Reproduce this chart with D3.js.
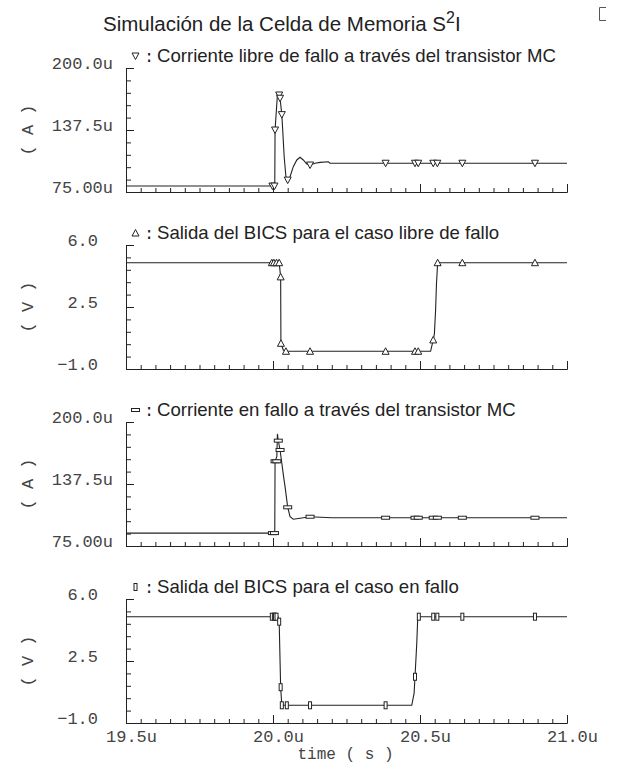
<!DOCTYPE html>
<html>
<head>
<meta charset="utf-8">
<script src="https://cdn.jsdelivr.net/npm/d3@7"></script>
<style>
  body { margin: 0; background: #fff; }
  svg { display: block; background: #fff; }
</style>
</head>
<body>
<svg id="chart"></svg>
<script>
// ---- data (time in us) ----
var timeDomain = [19.5, 21.0];
var timeTicks = [19.5, 20.0, 20.5, 21.0];
var timeLabels = ['19.5u', '20.0u', '20.5u', '21.0u'];

var currentDomain = [75, 200];
var currentTicks = [75, 137.5, 200];
var currentLabels = ['75.00u', '137.5u', '200.0u'];

var voltageDomain = [-1, 6];
var voltageTicks = [-1, 2.5, 6];
var voltageLabels = ['\u22121.0', '2.5', '6.0'];

// corriente libre de fallo (uA)
var iFree = [
  [19.5, 81], [20.006, 81], [20.007, 137.5], [20.015, 172.8], [20.024, 169.5],
  [20.030, 153], [20.033, 137.5], [20.038, 110.6], [20.044, 90.4], [20.050, 87.1],
  [20.058, 90.4], [20.069, 100.5], [20.081, 107.3], [20.092, 110], [20.103, 107.3],
  [20.115, 103.2], [20.126, 102.2], [20.143, 103.9], [20.160, 104.9], [20.188, 105.5],
  [20.194, 104], [21.0, 104]
];
var iFreeMarks = [
  [19.998, 81], [20.005, 81], [20.007, 137.5], [20.021, 172.8], [20.024, 169.5],
  [20.030, 153], [20.050, 87], [20.126, 102.2], [20.383, 104], [20.483, 104],
  [20.494, 104], [20.545, 104], [20.559, 104], [20.644, 104], [20.891, 104]
];

// salida BICS libre de fallo (V)
var vFree = [
  [19.5, 5.0], [20.021, 5.0], [20.026, 4.2], [20.027, 0.45], [20.035, 0.07],
  [20.044, 0], [20.536, 0], [20.545, 0.64], [20.549, 1.0], [20.553, 2.3],
  [20.556, 3.8], [20.560, 5.0], [21.0, 5.0]
];
var vFreeMarks = [
  [19.996, 5], [20.003, 5], [20.012, 5], [20.021, 5], [20.026, 4.2],
  [20.027, 0.45], [20.044, 0], [20.126, 0], [20.383, 0], [20.483, 0],
  [20.494, 0], [20.545, 0.64], [20.560, 5], [20.644, 5], [20.891, 5]
];

// corriente en fallo (uA)
var iFault = [
  [19.5, 88], [20.006, 88], [20.007, 160.4], [20.013, 165], [20.015, 188],
  [20.018, 181.2], [20.024, 171.8], [20.030, 158.4], [20.036, 145], [20.041, 134.8],
  [20.050, 114], [20.058, 104.5], [20.069, 102], [20.092, 103], [20.126, 104.5],
  [20.200, 103.5], [21.0, 103.5]
];
var iFaultMarks = [
  [19.998, 88], [20.005, 88], [20.007, 160.4], [20.013, 160.4], [20.018, 181.2],
  [20.024, 171.8], [20.050, 114], [20.126, 104.5], [20.383, 103.5], [20.483, 103.5],
  [20.494, 103.5], [20.545, 103.5], [20.559, 103.5], [20.644, 103.5], [20.891, 103.5]
];

// salida BICS en fallo (V)
var vFault = [
  [19.5, 5.0], [20.017, 5.0], [20.019, 4.9], [20.021, 4.72], [20.026, 1.02], [20.030, 0],
  [20.472, 0], [20.480, 0.69], [20.483, 1.61], [20.489, 3.5], [20.492, 4.81],
  [20.496, 5.0], [21.0, 5.0]
];
var vFaultMarks = [
  [19.996, 5], [20.003, 5], [20.007, 5], [20.012, 5], [20.021, 4.72],
  [20.026, 1.02], [20.030, 0], [20.047, 0], [20.126, 0], [20.383, 0],
  [20.483, 1.61], [20.496, 5], [20.545, 5], [20.559, 5], [20.644, 5], [20.891, 5]
];

var legendTexts = [
  'Corriente libre de fallo a trav\u00e9s del transistor MC',
  'Salida del BICS para el caso libre de fallo',
  'Corriente en fallo a trav\u00e9s del transistor MC',
  'Salida del BICS para el caso en fallo'
];

// ---- layout ----
var W = 619, H = 769;
var ink = '#222';
var mono = '"Liberation Mono", "DejaVu Sans Mono", monospace';
var sans = '"Liberation Sans", Arial, sans-serif';
var panelTop = [68, 245, 422, 599], panelH = 124;
var plotLeft = 126, plotRight = 567;

var panels = [
  { data: iFree, marks: iFreeMarks, domain: currentDomain, ticks: currentTicks, labels: currentLabels, step: 12.5, pad: 13, unit: '( A )', marker: 'down' },
  { data: vFree, marks: vFreeMarks, domain: voltageDomain, ticks: voltageTicks, labels: voltageLabels, step: 0.7, pad: 28, unit: '( V )', marker: 'up' },
  { data: iFault, marks: iFaultMarks, domain: currentDomain, ticks: currentTicks, labels: currentLabels, step: 12.5, pad: 13, unit: '( A )', marker: 'hbar' },
  { data: vFault, marks: vFaultMarks, domain: voltageDomain, ticks: voltageTicks, labels: voltageLabels, step: 0.7, pad: 28, unit: '( V )', marker: 'vbar' }
];

var svg = d3.select('#chart').attr('width', W).attr('height', H);

var x = d3.scaleLinear().domain(timeDomain).range([plotLeft, plotRight]);

function drawMarker(g, kind, cx, cy) {
  if (kind === 'down' || kind === 'up') {
    var s = kind === 'up' ? -1 : 1;
    g.append('path')
      .attr('d', 'M' + (cx - 3.5) + ',' + (cy - 3 * s) + 'L' + (cx + 3.5) + ',' + (cy - 3 * s) + 'L' + cx + ',' + (cy + 3.5 * s) + 'Z')
      .attr('fill', '#fff').attr('stroke', ink).attr('stroke-width', 1);
  } else if (kind === 'hbar') {
    g.append('rect').attr('x', cx - 4).attr('y', cy - 1.5).attr('width', 8).attr('height', 3)
      .attr('fill', '#fff').attr('stroke', ink).attr('stroke-width', 1);
  } else {
    g.append('rect').attr('x', cx - 1.5).attr('y', cy - 3.5).attr('width', 3).attr('height', 7)
      .attr('fill', '#fff').attr('stroke', ink).attr('stroke-width', 1);
  }
}

function styleAxis(sel) {
  sel.attr('font-family', mono).attr('font-size', 17).style('color', ink);
  sel.selectAll('text').attr('fill', '#444');
}

panels.forEach(function(p, i) {
  var top = panelTop[i], bottom = top + panelH;
  var y = d3.scaleLinear().domain(p.domain).range([bottom, top]);
  var g = svg.append('g').attr('class', 'panel panel-' + (i + 1));

  // y axis, minor then major
  var minor = d3.range(p.domain[0], p.domain[1] + p.step / 2, p.step);
  g.append('g').attr('transform', 'translate(' + plotLeft + ',0)')
    .call(d3.axisLeft(y).tickValues(minor).tickSizeInner(-5).tickSizeOuter(0).tickFormat(''))
    .call(styleAxis);
  g.append('g').attr('transform', 'translate(' + plotLeft + ',0)')
    .call(d3.axisLeft(y).tickValues(p.ticks).tickSizeInner(-8).tickSizeOuter(0).tickPadding(p.pad)
      .tickFormat(function(d) { return p.labels[p.ticks.indexOf(d)]; }))
    .call(styleAxis)
    .call(function(a) { a.selectAll('text').attr('dy', '0.05em'); });

  // x axis, minor then major
  var xMinor = d3.range(timeDomain[0], timeDomain[1] + 0.025, 0.05);
  g.append('g').attr('transform', 'translate(0,' + bottom + ')')
    .call(d3.axisBottom(x).tickValues(xMinor).tickSizeInner(-4).tickSizeOuter(0).tickFormat(''))
    .call(styleAxis);
  var last = i === panels.length - 1;
  g.append('g').attr('transform', 'translate(0,' + bottom + ')')
    .call(d3.axisBottom(x).tickValues(timeTicks).tickSizeInner(-8).tickSizeOuter(0).tickPadding(7)
      .tickFormat(function(d) { return last ? timeLabels[timeTicks.indexOf(d)] : ''; }))
    .call(styleAxis)
    .call(function(a) { a.selectAll('text').attr('dx', 5); });

  // unit label
  g.append('text')
    .attr('transform', 'translate(33,' + (top + panelH / 2) + ') rotate(-90)')
    .attr('text-anchor', 'middle')
    .attr('font-family', mono).attr('font-size', 17).attr('fill', '#444')
    .text(p.unit);

  // curve
  var line = d3.line().x(function(d) { return x(d[0]); }).y(function(d) { return y(d[1]); });
  g.append('path').datum(p.data)
    .attr('d', line)
    .attr('fill', 'none').attr('stroke', ink).attr('stroke-width', 1.1);

  var mk = g.append('g').attr('class', 'markers');
  p.marks.forEach(function(d) { drawMarker(mk, p.marker, x(d[0]), y(d[1])); });

  // legend
  var lg = g.append('g').attr('class', 'legend');
  drawMarker(lg, p.marker, 135.5, top - 12);
  lg.append('text').attr('x', 149).attr('y', top - 6).attr('text-anchor', 'middle')
    .attr('font-family', mono).attr('font-size', 17).attr('fill', ink).text(':');
  lg.append('text').attr('x', 157).attr('y', top - 6)
    .attr('font-family', sans).attr('font-size', 18.6).attr('fill', ink)
    .text(legendTexts[i]);
});

// x axis title
svg.append('text')
  .attr('x', (plotLeft + plotRight) / 2 - 1).attr('y', 759)
  .attr('text-anchor', 'middle')
  .attr('font-family', mono).attr('font-size', 16).attr('fill', '#444')
  .text('time ( s )');

// title
var title = svg.append('text')
  .attr('x', 103).attr('y', 31)
  .attr('font-family', sans).attr('font-size', 20.5).attr('fill', ink);
title.append('tspan').text('Simulaci\u00f3n de la Celda de Memoria S');
title.append('tspan').attr('font-size', 16).attr('dy', -8).text('2');
title.append('tspan').attr('dy', 8).text('I');

// small window glyph at the top right corner
svg.append('path')
  .attr('d', 'M606,7.5H599.5V20.5H606')
  .attr('fill', 'none').attr('stroke', '#555').attr('stroke-width', 1);
</script>
</body>
</html>
